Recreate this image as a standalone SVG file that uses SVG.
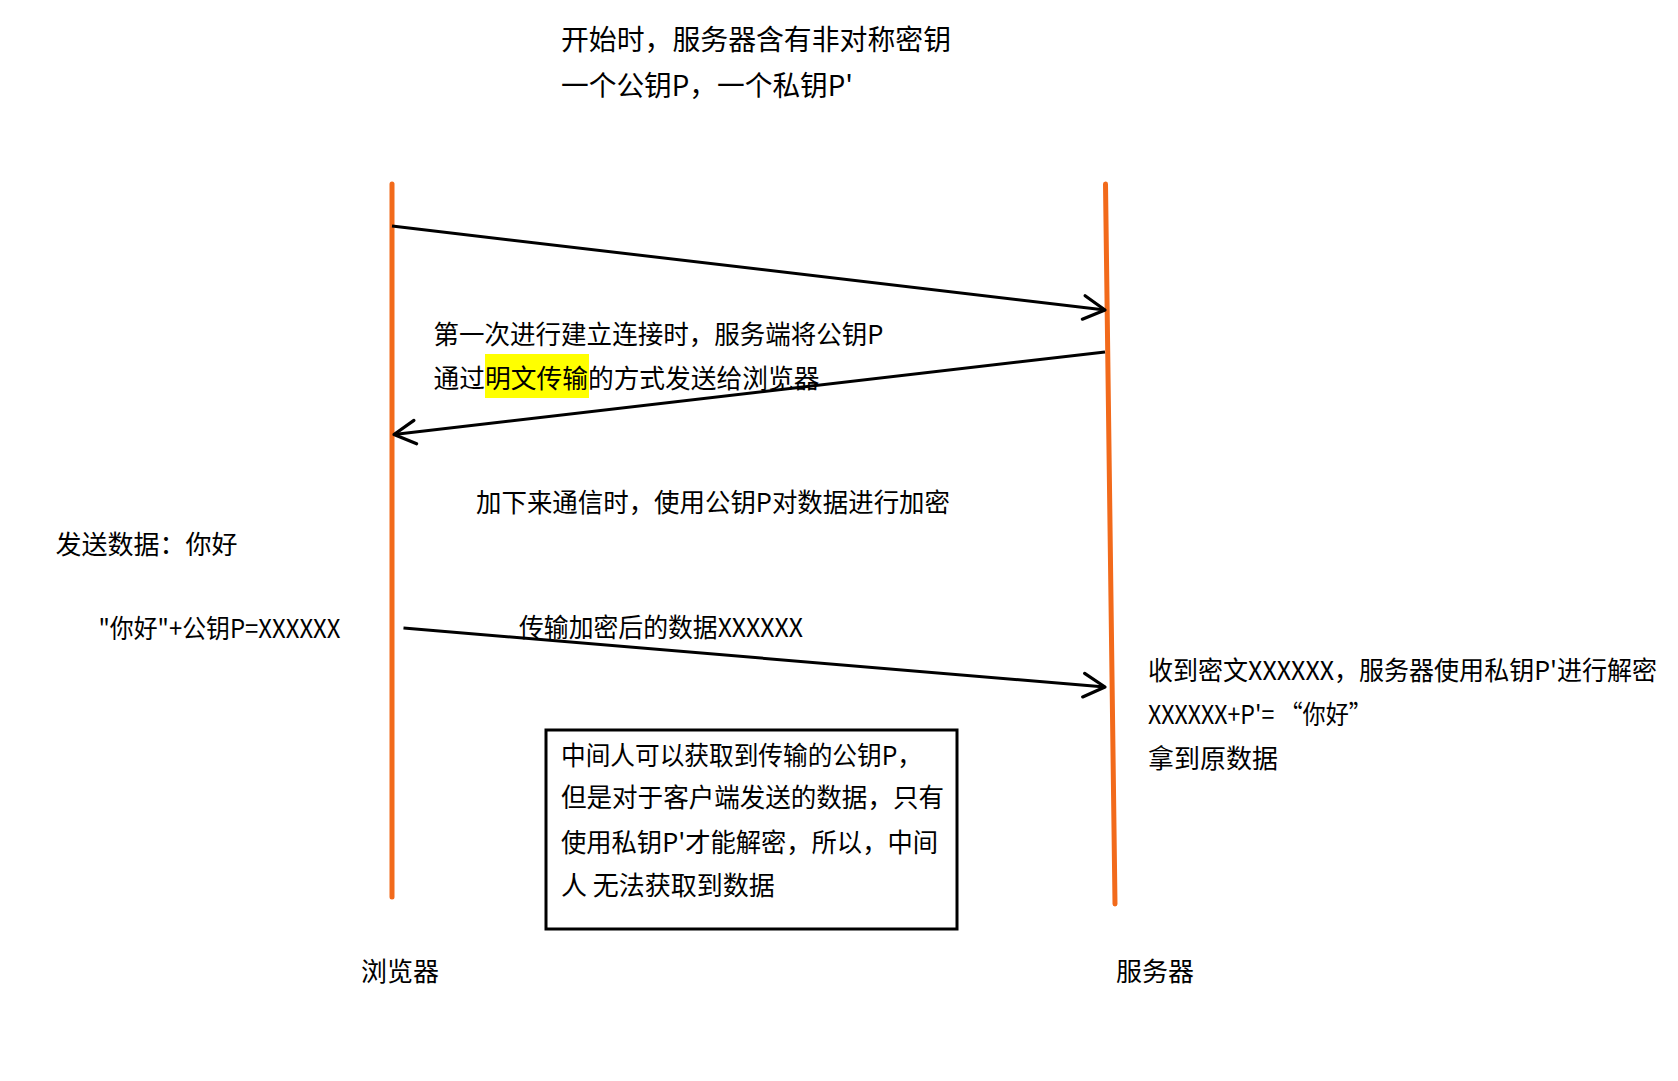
<svg xmlns="http://www.w3.org/2000/svg" width="1678" height="1081" viewBox="0 0 1678 1081">
<style>
text{font-family:"Noto Sans CJK SC","Noto Sans",sans-serif;font-size:26px;fill:#000}
.big{font-size:28px}
.life{stroke:#f26a1b;stroke-width:5;stroke-linecap:round;fill:none}
.msg{stroke:#000;stroke-width:3;fill:none;marker-end:url(#arr)}
</style>
<defs>
<marker id="arr" markerUnits="userSpaceOnUse" markerWidth="30" markerHeight="30" viewBox="-22 -14 26 28" refX="0" refY="0" orient="auto">
<path d="M-20,-11 L0,0 L-20,11" fill="none" stroke="#000" stroke-width="3" stroke-linecap="round" stroke-linejoin="round"/>
</marker>
</defs>
<rect width="1678" height="1081" fill="#fff"/>
<g id="title">
<text class="big" x="561" y="50" textLength="390" lengthAdjust="spacingAndGlyphs">开始时，服务器含有非对称密钥</text>
<text class="big" x="561" y="96" textLength="292" lengthAdjust="spacingAndGlyphs">一个公钥P，一个私钥P'</text>
</g>
<g id="browser">
<line class="life" x1="392" y1="184" x2="392" y2="897"/>
<text x="361" y="981">浏览器</text>
</g>
<g id="server">
<line class="life" x1="1105.5" y1="184" x2="1115" y2="904"/>
<text x="1116" y="981">服务器</text>
</g>
<g id="connectors">
<line class="msg" x1="392" y1="226" x2="1105" y2="310"/>
<line class="msg" x1="1105" y1="352" x2="394" y2="434.5"/>
<line class="msg" x1="403.5" y1="628" x2="1105" y2="687"/>
</g>
<g id="label-handshake">
<rect x="485" y="354" width="104" height="44" fill="#ffff00"/>
<text x="433.5" y="344" textLength="450" lengthAdjust="spacingAndGlyphs">第一次进行建立连接时，服务端将公钥P</text>
<text x="433.5" y="388" textLength="386" lengthAdjust="spacingAndGlyphs">通过明文传输的方式发送给浏览器</text>
</g>
<g id="label-encrypt">
<text x="476" y="512" textLength="474" lengthAdjust="spacingAndGlyphs">加下来通信时，使用公钥P对数据进行加密</text>
</g>
<g id="label-send">
<text x="55.5" y="554">发送数据：你好</text>
<text x="98.5" y="638" textLength="242" lengthAdjust="spacingAndGlyphs">"你好"+公钥P=XXXXXX</text>
</g>
<g id="label-transfer">
<text x="519" y="637" textLength="284" lengthAdjust="spacingAndGlyphs">传输加密后的数据XXXXXX</text>
</g>
<g id="label-receive">
<text x="1148" y="680" textLength="509" lengthAdjust="spacingAndGlyphs">收到密文XXXXXX，服务器使用私钥P'进行解密</text>
<text x="1148" y="724" textLength="224" lengthAdjust="spacingAndGlyphs">XXXXXX+P'= “你好”</text>
<text x="1148" y="768">拿到原数据</text>
</g>
<g id="note">
<rect x="546" y="730" width="411" height="199" fill="#fff" stroke="#000" stroke-width="3"/>
<text x="561" y="764.5" textLength="361" lengthAdjust="spacingAndGlyphs">中间人可以获取到传输的公钥P，</text>
<text x="561" y="807" textLength="383" lengthAdjust="spacingAndGlyphs">但是对于客户端发送的数据，只有</text>
<text x="561" y="852" textLength="377" lengthAdjust="spacingAndGlyphs">使用私钥P'才能解密，所以，中间</text>
<text x="561" y="895">人 无法获取到数据</text>
</g>
</svg>
